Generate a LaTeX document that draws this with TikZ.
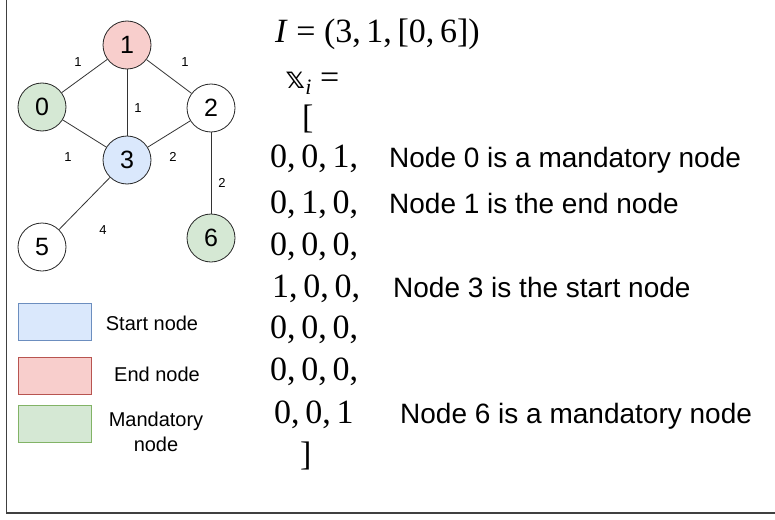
\documentclass[tikz,border=0pt]{standalone}
\usepackage{fontspec}
\setmainfont{Liberation Sans}
\newfontfamily\serif{Liberation Serif}
\newfontfamily\dvs{DejaVu Sans}
\definecolor{startfill}{HTML}{DAE8FC}
\definecolor{startline}{HTML}{6C8EBF}
\definecolor{endfill}{HTML}{F8CECC}
\definecolor{endline}{HTML}{B85450}
\definecolor{mandfill}{HTML}{D5E8D4}
\definecolor{mandline}{HTML}{82B366}
\begin{document}
\begin{tikzpicture}[x=1pt,y=-1pt,
  gnode/.style={circle, draw=black!85, line width=0.8pt, minimum size=48pt, inner sep=0pt, font=\fontsize{25}{25}\selectfont},
  edgeline/.style={draw=black!80, line width=0.8pt},
  elab/.style={font=\fontsize{13}{13}\selectfont, inner sep=0pt},
  legbox/.style={minimum width=73pt, minimum height=37pt, inner sep=0pt, line width=0.8pt},
  legtxt/.style={font=\fontsize{20}{25}\selectfont, align=center, inner sep=0pt},
  mathtxt/.style={font=\serif\fontsize{34}{40}\selectfont, anchor=base west, inner sep=0pt},
  lbl/.style={font=\fontsize{28}{30}\selectfont, anchor=base west, inner sep=0pt}]
\useasboundingbox (0,0) rectangle (775,519);
\fill[white] (0,0) rectangle (775,519);
% frame
\draw[line width=1.3pt, black!75] (6.5,0) -- (6.5,513) -- (775,513);
% graph nodes
\node[gnode, fill=endfill] (n1) at (127,45) {1};
\node[gnode, fill=mandfill] (n0) at (42,107) {0};
\node[gnode, fill=white] (n2) at (211,108) {2};
\node[gnode, fill=startfill] (n3) at (127,160) {3};
\node[gnode, fill=white] (n5) at (42,247) {5};
\node[gnode, fill=mandfill] (n6) at (211,238) {6};
% edges
\draw[edgeline] (n0) -- (n1);
\draw[edgeline] (n1) -- (n2);
\draw[edgeline] (n1) -- (n3);
\draw[edgeline] (n0) -- (n3);
\draw[edgeline] (n2) -- (n3);
\draw[edgeline] (n2) -- (n6);
\draw[edgeline] (n3) -- (n5);
% edge labels
\node[elab] (l01) at (78,62) {1};
\node[elab] (l12) at (185,62) {1};
\node[elab] (l13) at (138,108) {1};
\node[elab] (l03) at (68,157) {1};
\node[elab] (l23) at (173,157) {2};
\node[elab] (l26) at (222,183) {2};
\node[elab] (l35) at (103,230) {4};
% legend
\node[legbox, draw=startline, fill=startfill] (lb1) at (54.5,321.5) {};
\node[legbox, draw=endline, fill=endfill] (lb2) at (54.5,376) {};
\node[legbox, draw=mandline, fill=mandfill] (lb3) at (54.5,424) {};
\node[legtxt] (lt1) at (152,323) {Start node};
\node[legtxt] (lt2) at (157,374) {End node};
\node[legtxt] (lt3) at (156,432) {Mandatory\\node};
% math
\node[mathtxt] (mI) at (275,42) {\textit{I} = (3,\,1,\,[0,\,6])};
\node[mathtxt] (mx) at (285,88) {{\dvs\fontsize{30}{30}\selectfont 𝕩}\raisebox{-6pt}{\fontsize{22}{22}\selectfont\itshape i} =};
\node[mathtxt] (mo) at (302,128) {[};
\node[mathtxt] (r1) at (270,167) {0,\,0,\,1,};
\node[mathtxt] (r2) at (270,213) {0,\,1,\,0,};
\node[mathtxt] (r3) at (270,255) {0,\,0,\,0,};
\node[mathtxt] (r4) at (272,297) {1,\,0,\,0,};
\node[mathtxt] (r5) at (270,338) {0,\,0,\,0,};
\node[mathtxt] (r6) at (270,380) {0,\,0,\,0,};
\node[mathtxt] (r7) at (274,423) {0,\,0,\,1};
\node[mathtxt] (mc) at (300,465) {]};
% labels
\node[lbl] (t1) at (389,167) {Node 0 is a mandatory node};
\node[lbl] (t2) at (389,213) {Node 1 is the end node};
\node[lbl] (t4) at (393,297) {Node 3 is the start node};
\node[lbl] (t7) at (400,423) {Node 6 is a mandatory node};
\end{tikzpicture}
\end{document}
